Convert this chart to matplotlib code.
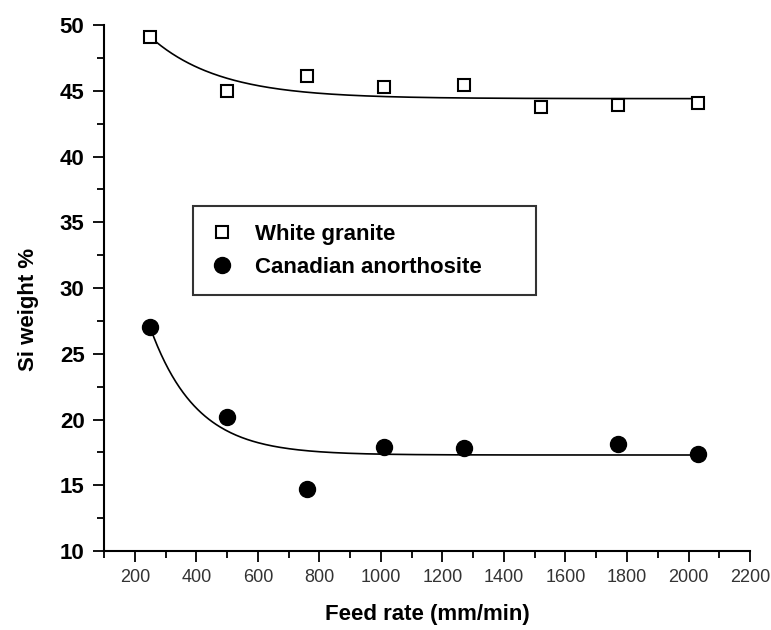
"""
Si weight % against feed rate for two rock types, with exponential decay fits
"""

import numpy as np
import matplotlib
matplotlib.use('Agg')
import matplotlib.pyplot as plt
from matplotlib.ticker import MultipleLocator

plt.rcParams['font.family'] = ['Liberation Sans', 'DejaVu Sans']

# Measured points
feed_granite = [250, 500, 760, 1010, 1270, 1520, 1770, 2030]
si_granite = [49.1, 45.0, 46.1, 45.3, 45.4, 43.8, 43.9, 44.1]

feed_anorth = [250, 500, 760, 1010, 1270, 1770, 2030]
si_anorth = [27.0, 20.2, 14.7, 17.9, 17.8, 18.1, 17.4]

# ExpDec1 fit parameters: y = y0 + A * exp(-(x - x0) / t)
fit_granite = {'y0': 44.4, 'A': 4.7, 't': 225.0}
fit_anorth = {'y0': 17.3, 'A': 9.7, 't': 150.0}
fit_x0 = 250
fit_x1 = 2030


def exp_decay(x, p):
    return p['y0'] + p['A'] * np.exp(-(x - fit_x0) / p['t'])


fig = plt.figure(figsize=(7.71, 6.30), dpi=100)
ax = fig.add_axes([0.1349, 0.1254, 0.8379, 0.8349])

xs = np.linspace(fit_x0, fit_x1, 300)
ax.plot(xs, exp_decay(xs, fit_granite), color='black', linewidth=1.2, zorder=2)
ax.plot(xs, exp_decay(xs, fit_anorth), color='black', linewidth=1.2, zorder=2)

ax.plot(feed_granite, si_granite, linestyle='none', marker='s', markersize=8.5,
        markerfacecolor='white', markeredgecolor='black', markeredgewidth=1.5,
        label='White granite', zorder=3)
ax.plot(feed_anorth, si_anorth, linestyle='none', marker='o', markersize=11.5,
        markerfacecolor='black', markeredgecolor='black',
        label='Canadian anorthosite', zorder=3)

ax.set_xlim(100, 2200)
ax.set_ylim(10, 50)
ax.xaxis.set_major_locator(MultipleLocator(200))
ax.xaxis.set_minor_locator(MultipleLocator(100))
ax.yaxis.set_major_locator(MultipleLocator(5))
ax.yaxis.set_minor_locator(MultipleLocator(2.5))

for side in ['top', 'right']:
    ax.spines[side].set_visible(False)
for side in ['left', 'bottom']:
    ax.spines[side].set_linewidth(1.5)

ax.tick_params(which='major', direction='out', length=8, width=1.3)
ax.tick_params(which='minor', direction='out', length=5, width=1.3)
ax.tick_params(axis='y', which='major', pad=6, labelsize=16)
ax.tick_params(axis='x', which='major', pad=5, labelsize=13, labelcolor='#333333')
for lbl in ax.get_yticklabels():
    lbl.set_fontweight('bold')

ax.set_xlabel('Feed rate (mm/min)', fontsize=16, fontweight='bold')
ax.set_ylabel('Si weight %', fontsize=16, fontweight='bold')
ax.xaxis.set_label_coords(0.5, -0.10)
ax.yaxis.set_label_coords(-0.10, 0.46)

leg = ax.legend(loc='upper left', bbox_to_anchor=(0.1378, 0.30, 0.531, 0.3559),
                mode='expand', borderaxespad=0, fancybox=False, shadow=False,
                prop={'size': 16, 'weight': 'bold'}, handlelength=1.0,
                handletextpad=1.0, borderpad=0.8, labelspacing=0.53)
leg.get_frame().set_edgecolor('black')
leg.get_frame().set_linewidth(1.5)

plt.savefig('out.png', dpi=100)
plt.close()
